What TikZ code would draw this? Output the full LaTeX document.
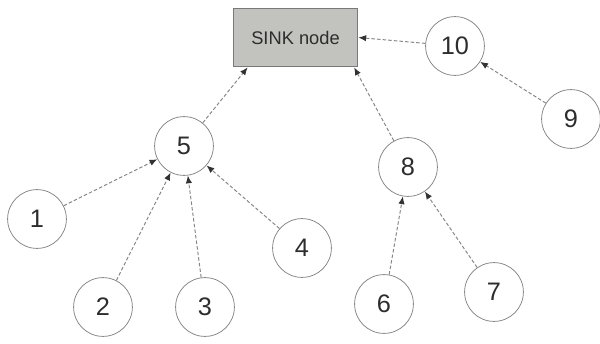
\documentclass[tikz,border=0pt]{standalone}
\usepackage{fontspec}
\setmainfont{Liberation Sans}
\usepackage{tikz}
\usetikzlibrary{arrows.meta,positioning}

\definecolor{sinkgray}{RGB}{194,194,190}
\definecolor{linegray}{RGB}{135,135,135}
\definecolor{tipgray}{RGB}{50,50,50}
\definecolor{textgray}{RGB}{45,45,45}

\begin{document}
\begin{tikzpicture}[x=0.025cm,y=-0.025cm,
    sensor/.style={circle,draw=linegray,line width=0.55pt,fill=white,text=textgray,minimum size=1.47cm,inner sep=0pt,font=\fontsize{18}{20}\selectfont},
    sinkbox/.style={rectangle,draw=linegray!90!black,line width=0.7pt,fill=sinkgray,text=textgray,minimum width=3.12cm,minimum height=1.47cm,font=\fontsize{13}{15}\selectfont},
    link/.style={draw=linegray,line width=0.7pt,dash pattern=on 2.5pt off 1.5pt,-{Latex[length=5.5pt,width=4.5pt,color=tipgray]}}]
        \useasboundingbox (0,0) rectangle (600,343);

        % Sink
        \node[sinkbox] (sink) at (295.5,37.5) {SINK node};

        % Sensor nodes
        \foreach \n/\x/\y in {1/37/219, 2/103/307, 3/205/307, 4/302/248, 5/184/146,
                              6/384/304, 7/494/292, 8/408/167, 9/571/119, 10/455/46} {
            \node[sensor] (n\n) at (\x,\y) {\n};
        }

        % Links towards parents
        \foreach \c in {1,2,3,4} {
            \draw[link] (n\c) -- (n5);
        }
        \foreach \c in {6,7} {
            \draw[link] (n\c) -- (n8);
        }
        \draw[link] (n9) -- (n10);
        \draw[link] (n5) -- (sink.212);
        \draw[link] (n8) -- (sink.-27);
        \draw[link] (n10) -- (sink.east);
    \end{tikzpicture}
\end{document}
